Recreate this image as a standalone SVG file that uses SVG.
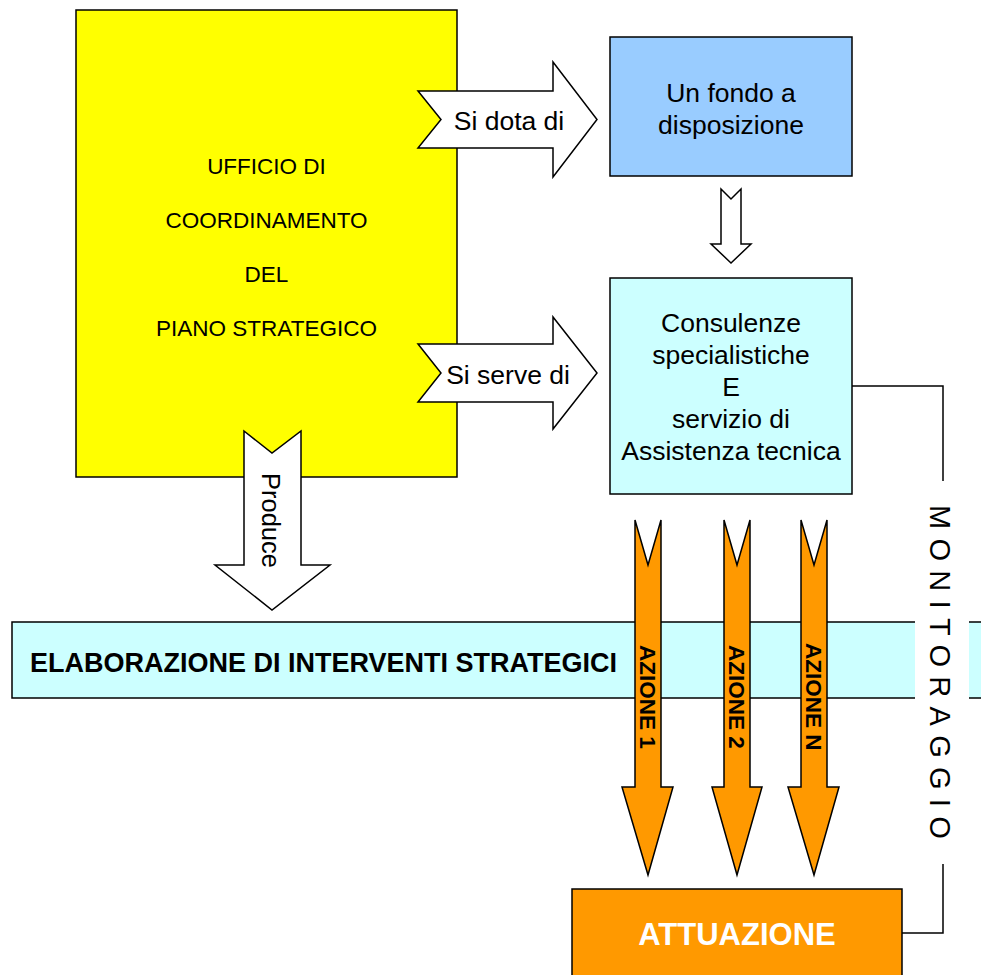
<svg xmlns="http://www.w3.org/2000/svg" width="981" height="975" viewBox="0 0 981 975">
<style>
.box{stroke:#000;stroke-width:1.5}
.arr{fill:#fff;stroke:#000;stroke-width:1.5;stroke-linejoin:miter}
.oarr{fill:#FF9900;stroke:#000;stroke-width:1.5}
.t{font-family:"Liberation Sans",Arial,sans-serif;fill:#000}
.conn{fill:none;stroke:#000;stroke-width:1.5}
</style>
<rect width="981" height="975" fill="#fff"/>
<g id="ufficio">
<rect class="box" x="76" y="10" width="381" height="467" fill="#FFFF00"/>
<g class="t" font-size="22.5" text-anchor="middle">
<text x="266.5" y="174">UFFICIO DI</text>
<text x="266.5" y="228">COORDINAMENTO</text>
<text x="266.5" y="282">DEL</text>
<text x="266.5" y="336">PIANO STRATEGICO</text>
</g>
</g>
<g id="fondo">
<rect class="box" x="610" y="37" width="242" height="139" fill="#99CCFF"/>
<g class="t" font-size="26.5" text-anchor="middle">
<text x="731" y="102">Un fondo a</text>
<text x="731" y="134">disposizione</text>
</g>
</g>
<g id="consulenze">
<rect class="box" x="610" y="278" width="242" height="216" fill="#CCFFFF"/>
<g class="t" font-size="26.5" text-anchor="middle">
<text x="731" y="332">Consulenze</text>
<text x="731" y="364">specialistiche</text>
<text x="731" y="396">E</text>
<text x="731" y="428">servizio di</text>
<text x="731" y="460">Assistenza tecnica</text>
</g>
</g>
<g id="elaborazione">
<rect class="box" x="12" y="622" width="980" height="76" fill="#CCFFFF"/>
<text class="t" x="30" y="672" font-size="27" font-weight="bold">ELABORAZIONE DI INTERVENTI STRATEGICI</text>
</g>
<g id="attuazione">
<rect class="box" x="572" y="889" width="330" height="95" fill="#FF9900"/>
<text class="t" x="737" y="945" font-size="31" font-weight="bold" text-anchor="middle" style="fill:#fff">ATTUAZIONE</text>
</g>
<g id="monitoraggio">
<rect x="915" y="500" width="54" height="345" fill="#fff"/>
<text class="t" transform="translate(930,505) rotate(90)" font-size="29" letter-spacing="9.3">MONITORAGGIO</text>
</g>
<g id="connectors">
<polyline class="conn" points="852,386 943,386 943,481"/>
<polyline class="conn" points="943,864 943,933 902,933"/>
<g id="arrow-dota">
<polygon class="arr" points="418,91 553,91 553,62 597,119.5 553,177 553,148 418,148 441,119.5"/>
<text class="t" x="509" y="130" font-size="26.5" text-anchor="middle">Si dota di</text>
</g>
<g id="arrow-serve">
<polygon class="arr" points="418,344 553,344 553,317 597,373 553,429 553,402 418,402 441,373"/>
<text class="t" x="508" y="384" font-size="26.5" text-anchor="middle">Si serve di</text>
</g>
<g id="arrow-fondo-consulenze">
<polygon class="arr" points="721,189 731,199 741,189 741,244 751,244 731,263 711,244 721,244"/>
</g>
<g id="arrow-produce">
<polygon class="arr" points="244,431 272,453 301,431 301,565 330,565 272,610 215,565 244,565"/>
<text class="t" transform="translate(262,473) rotate(90)" font-size="25.5">Produce</text>
</g>
<g id="arrow-azione1">
<polygon class="oarr" points="635,520 648,565 661,520 661,787 673,787 648,875 622,787 635,787"/>
<text class="t" transform="translate(640,645) rotate(90)" font-size="22.5" font-weight="bold">AZIONE 1</text>
</g>
<g id="arrow-azione2">
<polygon class="oarr" points="724,520 737,565 750,520 750,787 762,787 737,875 712,787 724,787"/>
<text class="t" transform="translate(729,645) rotate(90)" font-size="22.5" font-weight="bold">AZIONE 2</text>
</g>
<g id="arrow-azioneN">
<polygon class="oarr" points="801,520 814,565 827,520 827,787 839,787 814,875 788,787 801,787"/>
<text class="t" transform="translate(806,643) rotate(90)" font-size="22.5" font-weight="bold">AZIONE N</text>
</g>
</g>
</svg>
